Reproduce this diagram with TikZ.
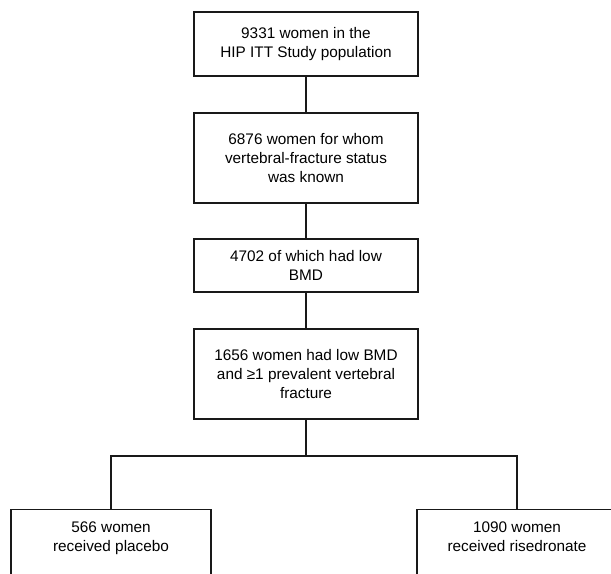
\documentclass[tikz,border=0pt]{standalone}
\usepackage{fontspec}
\setmainfont{Liberation Sans}
\usetikzlibrary{positioning}

\begin{document}
\begin{tikzpicture}[
		x=0.75pt, y=-0.75pt,
		flowbox/.style={
			draw=black!90, line width=0.9pt,
			align=center, minimum width=168pt, inner sep=2pt,
			font=\fontsize{11.5}{14.25}\selectfont
		},
		armbox/.style={
			flowbox, minimum width=150pt, anchor=north,
			inner ysep=9.5pt, text depth=60pt
		},
		link/.style={draw=black!90, line width=0.9pt}
		]
		\useasboundingbox (0,0) rectangle (611,574);
		
		% --- Chuỗi sàng lọc ---
		\node[flowbox, minimum height=48pt] (pop) at (306,44) {9331 women in the\\HIP ITT Study population};
		\node[flowbox, minimum height=67.5pt] (known) at (306,158) {6876 women for whom\\vertebral-fracture status\\was known};
		\node[flowbox, minimum height=39.75pt] (lowbmd) at (306,265.5) {4702 of which had low\\BMD};
		\node[flowbox, minimum height=67.5pt] (fract) at (306,374) {1656 women had low BMD\\and ≥1 prevalent vertebral\\fracture};
		
		% --- Hai nhánh điều trị ---
		\coordinate (split) at (306,456);
		\node[armbox] (placebo) at (111,509) {566 women\\received placebo};
		\node[armbox] (rise) at (517,509) {1090 women\\received risedronate};
		
		\draw[link] (pop) -- (known);
		\draw[link] (known) -- (lowbmd);
		\draw[link] (lowbmd) -- (fract);
		\draw[link] (fract) -- (split);
		\draw[link] (split) -| (placebo.north);
		\draw[link] (split) -| (rise.north);
		
	\end{tikzpicture}
\end{document}
